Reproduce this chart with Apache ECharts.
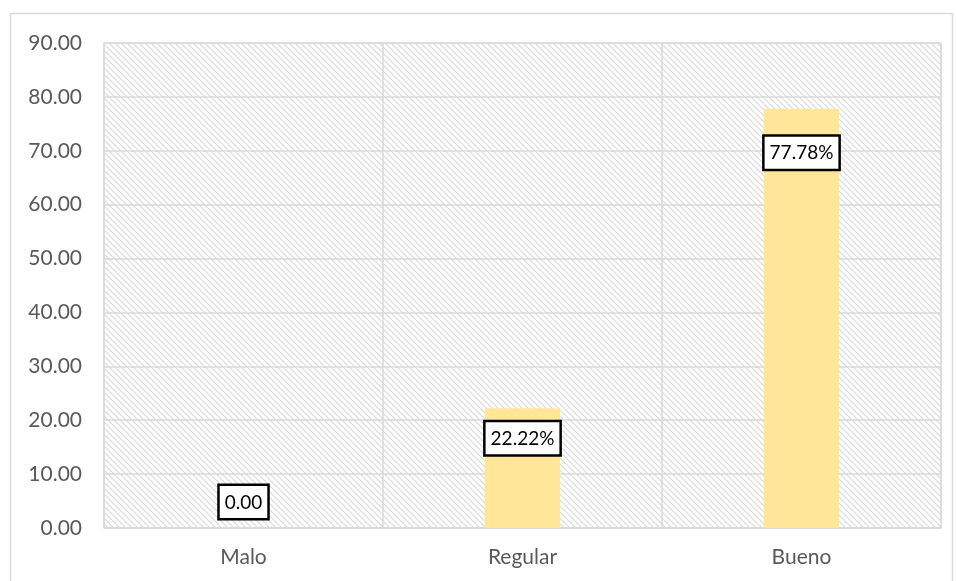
<!DOCTYPE html>
<html><head><meta charset="utf-8">
<script src="https://cdn.jsdelivr.net/npm/echarts@6/dist/echarts.min.js"></script>
<style>html,body{margin:0;padding:0;background:#fff}#c{width:956px;height:581px}</style>
</head><body><div id="c"></div>
<script>
var categories = ['Malo', 'Regular', 'Bueno'];
var values = [0, 22.22, 77.78];
var labelTexts = ['0.00', '22.22%', '77.78%'];
var labelOffsets = [[0, -42], [0, 14], [0, 28]];

var pc = document.createElement('canvas');
pc.width = 6; pc.height = 6;
var ctx = pc.getContext('2d');
ctx.fillStyle = '#ffffff'; ctx.fillRect(0, 0, 6, 6);
ctx.strokeStyle = '#d9d9d9'; ctx.lineWidth = 1.2;
ctx.beginPath();
ctx.moveTo(-1, -1); ctx.lineTo(7, 7);
ctx.moveTo(-7, -1); ctx.lineTo(1, 7);
ctx.moveTo(5, -1); ctx.lineTo(13, 7);
ctx.stroke();

var chart = echarts.init(document.getElementById('c'), null, {renderer: 'canvas'});
var font = 'Lato, "Open Sans", sans-serif';
chart.setOption({
  animation: false,
  graphic: [{type: 'rect', shape: {x: 10.5, y: 13.5, width: 942, height: 620}, style: {fill: 'none', stroke: '#d9d9d9', lineWidth: 1.5}, z: -10}],
  grid: {left: 104, right: 15, top: 43, bottom: 53, show: true,
         backgroundColor: {image: pc, repeat: 'repeat'}, borderColor: '#d9d9d9', borderWidth: 1},
  xAxis: {type: 'category', data: categories,
          axisLine: {lineStyle: {color: '#d9d9d9', width: 1.5}}, axisTick: {show: false},
          splitLine: {show: true, lineStyle: {color: '#d9d9d9', width: 1.5}},
          axisLabel: {color: '#595959', fontSize: 21, fontFamily: font, margin: 19}},
  yAxis: {type: 'value', min: 0, max: 90, interval: 10,
          axisLine: {show: false}, axisTick: {show: false},
          splitLine: {lineStyle: {color: '#d9d9d9', width: 1.5}},
          axisLabel: {color: '#595959', fontSize: 21, fontFamily: font, margin: 22,
                      formatter: function (v) { return v.toFixed(2); }}},
  series: [{type: 'bar', barWidth: '27%',
    itemStyle: {color: '#ffe699'},
    data: values.map(function (v, i) {
      return {value: v, label: {show: true, position: 'insideTop', distance: 0, offset: labelOffsets[i],
        formatter: labelTexts[i], color: '#000', fontSize: 19, fontFamily: font,
        backgroundColor: '#fff', borderColor: '#000', borderWidth: 2.5, padding: [7, 5, 6, 5]}};
    })
  }]
});
</script></body></html>
